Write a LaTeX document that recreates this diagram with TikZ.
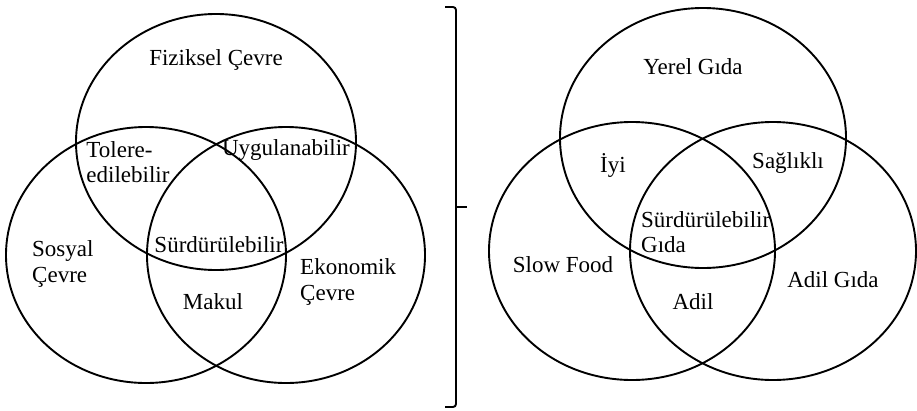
\documentclass[tikz,border=0pt]{standalone}
\usepackage{fontspec}
\setmainfont{Liberation Serif}
\usetikzlibrary{positioning, calc}
\tikzset{
    venn/.style={draw, line width=1.9pt},
    lbl/.style={inner sep=0pt, font=\fontsize{23}{25.5}\selectfont, align=left},
    brace/.style={draw, line width=1.9pt, rounded corners=3pt},
}
\begin{document}
\begin{tikzpicture}[x=1pt, y=-1pt]
\useasboundingbox (0,0) rectangle (917,410);
% --- LEFT diagram ---
\draw[venn] (216,142) ellipse [x radius=140pt, y radius=128pt];
\draw[venn] (146,255) ellipse [x radius=140pt, y radius=128pt];
\draw[venn] (286,255) ellipse [x radius=139pt, y radius=128pt];
\node[lbl] (l-fiz) at (216,60) {Fiziksel Çevre};
\node[lbl] (l-tol) at (128,162) {Tolere-\\edilebilir};
\node[lbl] (l-uyg) at (286,150) {Uygulanabilir};
\node[lbl] (l-sur) at (219,245) {Sürdürülebilir};
\node[lbl, anchor=west] (l-sos) at (32,264) {Sosyal\\Çevre};
\node[lbl] (l-mak) at (213,302) {Makul};
\node[lbl, anchor=west] (l-eko) at (300,282) {Ekonomik\\Çevre};

% --- bracket ---
\draw[brace] (445,7) -- (456,7) -- (456,407) -- (445,407);
\draw[line width=1.9pt] (456,207) -- (467,207);

% --- RIGHT diagram ---
\draw[venn] (703,138) ellipse [x radius=143pt, y radius=130pt];
\draw[venn] (632,251) ellipse [x radius=143pt, y radius=129pt];
\draw[venn] (773,251) ellipse [x radius=143pt, y radius=129pt];
\node[lbl] (r-yer) at (693,67) {Yerel Gıda};
\node[lbl] (r-iyi) at (613,165) {İyi};
\node[lbl] (r-sag) at (788,163) {Sağlıklı};
\node[lbl, anchor=west] (r-sur) at (641,232) {Sürdürülebilir\\Gıda};
\node[lbl] (r-slo) at (563,265) {Slow Food};
\node[lbl] (r-adi) at (693,302) {Adil};
\node[lbl] (r-agd) at (833,280) {Adil Gıda};
\end{tikzpicture}
\end{document}
